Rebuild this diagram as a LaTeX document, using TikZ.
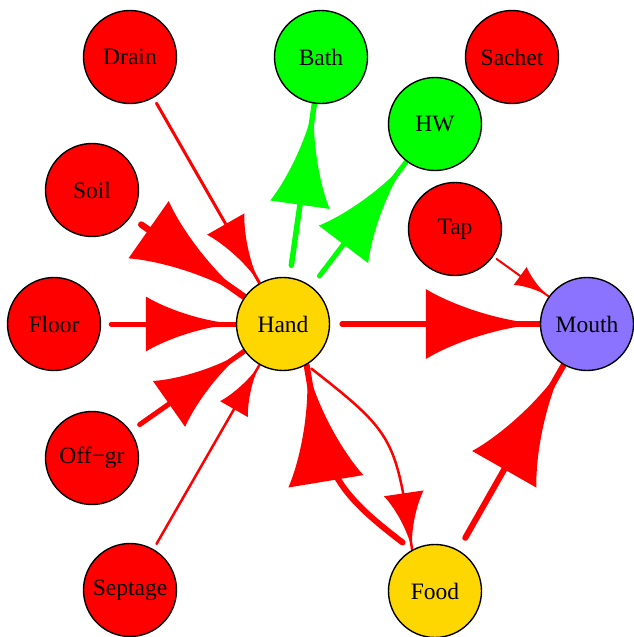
\documentclass[tikz,border=0pt]{standalone}
\usepackage{fontspec}
\setmainfont{Liberation Serif}
\usetikzlibrary{decorations.markings}
\definecolor{mouthc}{RGB}{140,115,255}
\definecolor{goldc}{RGB}{255,215,0}
\definecolor{redc}{RGB}{255,0,0}
\definecolor{greenc}{RGB}{0,255,0}
\pgfdeclarelayer{bg}
\pgfsetlayers{bg,main}
\begin{document}
\begin{tikzpicture}[x=1pt,y=1pt,
  vtx/.style={circle, draw=black, line width=1.4pt, minimum size=93pt, inner sep=0pt,
    font=\fontsize{23.5}{28}\selectfont, fill=#1},
  E/.style n args={5}{draw=#1, line width=#2pt, line cap=round, shorten <=#5pt,
    postaction={decorate, decoration={markings, mark=at position 1 with {%
      \fill[#1] (-#3pt,#4pt) .. controls (-0.8*#3pt,0.6*#4pt) and (-0.4*#3pt,0.1*#4pt) .. (0pt,0pt)
        .. controls (-0.4*#3pt,-0.1*#4pt) and (-0.8*#3pt,-0.6*#4pt) .. (-#3pt,-#4pt) -- cycle;}}}}
]
\useasboundingbox (0,0) rectangle (634,-637);

\node[vtx=redc] (Drain) at (130,-57) {Drain};
\node[vtx=greenc] (Bath) at (321,-57) {Bath};
\node[vtx=redc] (Sachet) at (512,-57) {Sachet};
\node[vtx=greenc] (HW) at (435,-124) {HW};
\node[vtx=redc] (Soil) at (92,-190) {Soil};
\node[vtx=redc] (Tap) at (455,-229) {Tap};
\node[vtx=redc] (Floor) at (54,-324) {Floor};
\node[vtx=goldc] (Hand) at (283,-324) {Hand};
\node[vtx=mouthc] (Mouth) at (587,-324) {Mouth};
\node[vtx=redc] (Offgr) at (92,-458) {Off−gr};
\node[vtx=redc] (Septage) at (130,-590) {Septage};
\node[vtx=goldc] (Food) at (435,-591) {Food};

\begin{pgfonlayer}{bg}
\draw[E={redc}{5.5}{114}{35}{12}] (Hand) -- (Mouth);
\draw[E={redc}{5}{90}{27.5}{10}] (Floor) -- (Hand);
\draw[E={redc}{6.5}{117}{35}{13}] (Soil) -- (Hand);
\draw[E={redc}{3}{68}{21.5}{6}] (Drain) -- (Hand);
\draw[E={redc}{5}{92}{28}{11}] (Offgr) -- (Hand);
\draw[E={redc}{2.5}{51}{16}{6}] (Septage) -- (Hand);
\draw[E={redc}{2}{35}{11}{4}] (Tap) -- (Mouth);
\draw[E={greenc}{5.5}{102}{30}{12}] (Hand) -- (Bath);
\draw[E={greenc}{5}{104}{31}{13}] (Hand) -- (HW);
\draw[E={redc}{6}{120}{37}{14}] (Food) -- (Mouth);
\draw[E={redc}{2.5}{57}{20}{6}] (Hand.-60.35) to[out=-38,in=98.4,looseness=1.35] (Food.119.65);
\draw[E={redc}{6}{118}{38}{12}] (Food.119.65) to[out=142.7,in=-80.6,looseness=1.25] (Hand.-60.35);
\end{pgfonlayer}
\end{tikzpicture}
\end{document}
